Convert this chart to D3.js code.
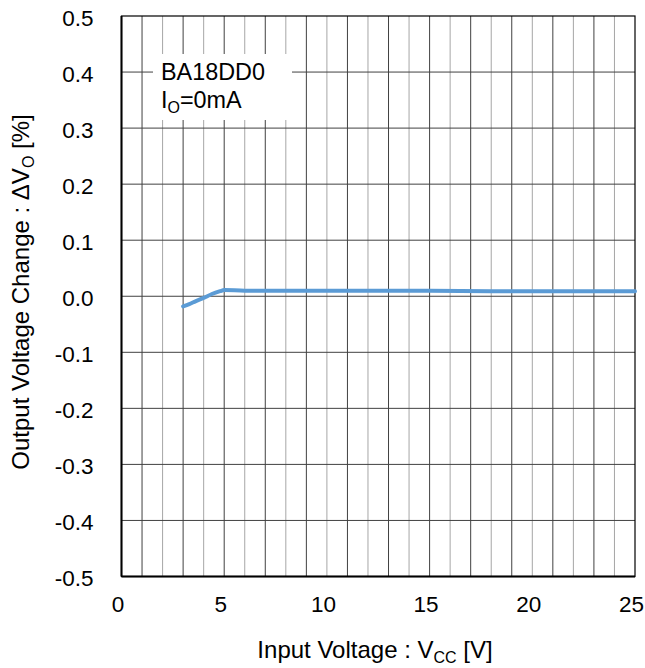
<!DOCTYPE html>
<html>
<head>
<meta charset="utf-8">
<script src="https://cdn.jsdelivr.net/npm/d3@7"></script>
<style>
  body { margin: 0; background: #fff; }
  svg text { font-family: "Liberation Sans", Arial, sans-serif; fill: #000; }
</style>
</head>
<body>
<svg id="chart" width="645" height="668"></svg>
<script>
// ----------DATA----------
var vcc = [3.0, 3.3, 3.6, 4.0, 4.4, 4.8, 5.0, 6, 8, 10, 12, 15, 18, 20, 22, 25];
var dVo = [-0.018, -0.014, -0.009, -0.003, 0.004, 0.009, 0.011, 0.010, 0.010, 0.010, 0.010, 0.010, 0.009, 0.009, 0.009, 0.009];
var xTicks = [0, 5, 10, 15, 20, 25];
var yTicks = [0.5, 0.4, 0.3, 0.2, 0.1, 0.0, -0.1, -0.2, -0.3, -0.4, -0.5];

var svg = d3.select('#chart');
var plotLeft = 121.5, plotRight = 635, plotTop = 16, plotBottom = 576.5;
var fontSize = 22.5;

var x = d3.scaleLinear().domain([0, 25]).range([plotLeft, plotRight]);
var y = d3.scaleLinear().domain([-0.5, 0.5]).range([plotBottom, plotTop]);

//----------GRID----------
var grid = svg.append('g');
grid.selectAll('line.v')
    .data(d3.range(1, 25))
    .enter().append('line')
    .attr('x1', function(d) {return x(d);})
    .attr('x2', function(d) {return x(d);})
    .attr('y1', plotTop).attr('y2', plotBottom)
    .attr('stroke', function(d) {return d % 2 ? '#404040' : '#a6a6a6';})
    .attr('stroke-width', 1);

grid.selectAll('line.h')
    .data(yTicks.slice(1, -1))
    .enter().append('line')
    .attr('x1', plotLeft).attr('x2', plotRight)
    .attr('y1', function(d) {return y(d);})
    .attr('y2', function(d) {return y(d);})
    .attr('stroke', '#404040')
    .attr('stroke-width', 1);

//label box covers the grid
svg.append('rect')
    .attr('x', 153).attr('y', 54)
    .attr('width', 139).attr('height', 66)
    .attr('fill', '#fff');

//frame
svg.append('rect')
    .attr('x', plotLeft).attr('y', plotTop)
    .attr('width', plotRight - plotLeft).attr('height', plotBottom - plotTop)
    .attr('fill', 'none')
    .attr('stroke', '#000')
    .attr('stroke-width', 1.2);
svg.append('line').attr('x1', plotLeft).attr('x2', plotLeft).attr('y1', plotTop).attr('y2', plotBottom)
    .attr('stroke', '#000').attr('stroke-width', 2);
svg.append('line').attr('x1', plotLeft).attr('x2', plotRight).attr('y1', plotBottom).attr('y2', plotBottom)
    .attr('stroke', '#000').attr('stroke-width', 2);

//----------SERIES----------
var line = d3.line()
    .x(function(d, i) {return x(vcc[i]);})
    .y(function(d) {return y(d);})
    .curve(d3.curveMonotoneX);

svg.append('path')
    .datum(dVo)
    .attr('d', line)
    .attr('fill', 'none')
    .attr('stroke', '#5b9bd5')
    .attr('stroke-width', 4)
    .attr('stroke-linecap', 'round')
    .attr('stroke-linejoin', 'round');

//----------AXES----------
var xAxis = svg.append('g')
    .attr('transform', 'translate(-4,' + plotBottom + ')')
    .call(d3.axisBottom(x).tickValues(xTicks).tickSize(0).tickPadding(20).tickFormat(d3.format('d')));
xAxis.select('.domain').remove();
xAxis.selectAll('text').attr('font-size', fontSize).attr('fill', '#000')
    .attr('font-family', '"Liberation Sans", Arial, sans-serif');

var yAxis = svg.append('g')
    .attr('transform', 'translate(' + plotLeft + ',2)')
    .call(d3.axisLeft(y).tickValues(yTicks).tickSize(0).tickPadding(28).tickFormat(d3.format('.1f')));
yAxis.select('.domain').remove();
yAxis.selectAll('text').attr('font-size', fontSize).attr('fill', '#000')
    .attr('font-family', '"Liberation Sans", Arial, sans-serif')
    .text(function(d) {return d3.format('.1f')(d).replace('−', '-');});

//----------TITLES----------
var xt = svg.append('text')
    .attr('x', 375).attr('y', 658)
    .attr('text-anchor', 'middle')
    .attr('font-size', 24);
xt.append('tspan').text('Input Voltage : V');
xt.append('tspan').attr('font-size', 16).attr('dy', 5).text('CC');
xt.append('tspan').attr('dy', -5).text(' [V]');

var yt = svg.append('text')
    .attr('transform', 'translate(29,292) rotate(-90)')
    .attr('text-anchor', 'middle')
    .attr('font-size', 24);
yt.append('tspan').text('Output Voltage Change : \u0394V');
yt.append('tspan').attr('font-size', 16).attr('dy', 5).text('O');
yt.append('tspan').attr('dy', -5).text(' [%]');

var lab = svg.append('g');
lab.append('text').attr('x', 161).attr('y', 80).attr('font-size', 23.4).text('BA18DD0');
var io = lab.append('text').attr('x', 161).attr('y', 108).attr('font-size', 23.4);
io.append('tspan').text('I');
io.append('tspan').attr('font-size', 16).attr('dy', 5).text('O');
io.append('tspan').attr('dy', -5).text('=0mA');
</script>
</body>
</html>
